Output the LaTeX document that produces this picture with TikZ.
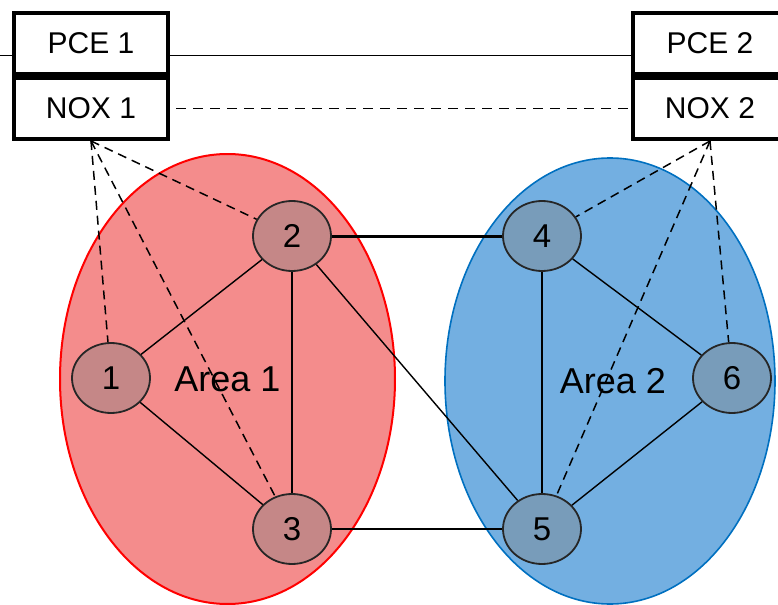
\documentclass[tikz,border=0pt]{standalone}
\usepackage{fontspec}
\setmainfont{Liberation Sans}
\usetikzlibrary{shapes.geometric}

\definecolor{areared}{RGB}{244,140,140}
\definecolor{areablue}{RGB}{115,175,225}
\definecolor{rimblue}{RGB}{0,112,192}

\tikzset{
  ctrl/.style={draw, line width=2pt, minimum width=77pt, minimum height=30.5pt,
    inner sep=0pt, font=\fontsize{15}{18}\selectfont},
  area/.style={ellipse, inner sep=0pt, font=\fontsize{18}{21}\selectfont},
  router/.style={ellipse, draw=black!85, line width=0.9pt, fill=black!50,
    fill opacity=0.4, text opacity=1, minimum width=39pt, minimum height=35pt,
    inner sep=0pt, font=\fontsize{16.5}{19}\selectfont},
  link/.style={line width=0.7pt},
  signal/.style={dash pattern=on 4.5pt off 3pt, line width=0.75pt}
}

\begin{document}
\begin{tikzpicture}[x=0.5pt, y=-0.5pt]
    \useasboundingbox (0,0) rectangle (778,605);
    \clip (0,0) rectangle (778,605);

    % Draw the two areas
    \node[area, fill=areared, draw=red, line width=1pt,
      minimum width=167.5pt, minimum height=225pt] (area1) at (227.5,379) {Area 1};
    \node[area, fill=areablue, draw=rimblue, line width=0.8pt,
      minimum width=165pt, minimum height=223pt] (area2) at (610,381) {\hspace{3pt}Area 2};

    % Draw the routers
    \node[router] (r1) at (111,378) {1};
    \node[router] (r2) at (292,236) {2};
    \node[router] (r3) at (292,529) {3};
    \node[router] (r4) at (542,236) {4};
    \node[router] (r5) at (542,529) {5};
    \node[router] (r6) at (732,378) {6};

    % Draw the controllers
    \node[ctrl] (pce1) at (91,43.5) {PCE 1};
    \node[ctrl, anchor=north] (nox1) at (pce1.south) {NOX 1};
    \node[ctrl] (pce2) at (710,43.5) {PCE 2};
    \node[ctrl, anchor=north] (nox2) at (pce2.south) {NOX 2};

    % PCE and NOX links
    \coordinate (west) at (0,55);
    \draw[line width=0.5pt] (west) -- (west -| pce1.west);
    \draw[line width=0.5pt] (pce1.east |- west) -- (pce2.west |- west);
    \draw[signal, dash pattern=on 5pt off 3.5pt] ([xshift=3pt]nox1.east) -- (nox2.west);

    % Control sessions
    \foreach \r in {r1,r2,r3}
        \draw[signal] (nox1.south) -- (\r);
    \foreach \r in {r4,r5,r6}
        \draw[signal] (nox2.south) -- (\r);

    % Links inside and between the areas
    \draw[link] (r1) -- (r2);
    \draw[link] (r1) -- (r3);
    \draw[link] (r2) -- (r3);
    \draw[link] (r2) -- (r5);
    \draw[link] (r4) -- (r6);
    \draw[link] (r5) -- (r6);
    \draw[line width=1.5pt] (r2) -- (r4);
    \draw[line width=1pt] (r3) -- (r5);
    \draw[line width=1pt] (r4) -- (r5);
\end{tikzpicture}
\end{document}
